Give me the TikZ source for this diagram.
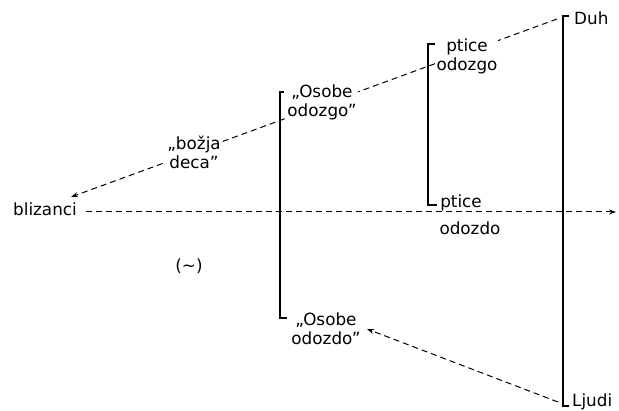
\documentclass[tikz,border=0pt]{standalone}
\usepackage{fontspec}
\setmainfont{DejaVu Sans}
\usetikzlibrary{arrows.meta,backgrounds}
\begin{document}
\begin{tikzpicture}[x=1pt,y=-1pt,
  lbl/.style={font=\fontsize{16.8}{19}\selectfont, inner sep=1pt, align=center},
  barline/.style={line width=1.4pt},
  dline/.style={line width=1pt, dash pattern=on 6pt off 4pt, -{Stealth[length=7pt,width=5pt]}},
]
\useasboundingbox (0,0) rectangle (619,411);
% labels
\node[lbl, anchor=west] (duh) at (573,18) {Duh};
\node[lbl, anchor=base west] (ljudi) at (571,407) {Ljudi};
\node[lbl] (bliz) at (45,209) {blizanci};
\node[lbl, fill=white] (pticeg) at (467,56) {ptice\\odozgo};
\node[lbl] (pticed) at (461,203) {ptice};
\node[lbl] (odozdo) at (470,228) {odozdo};
\node[lbl, fill=white] (osobeg) at (322,102) {„Osobe\\odozgo”};
\node[lbl] (osobed) at (326,329) {„Osobe\\odozdo”};
\node[lbl, fill=white] (bozja) at (194,152) {„božja\\deca”};
\node[lbl] (tilde) at (189,266) {(\textasciitilde)};
% connector ends
\coordinate (duhstart) at (557,19);
\coordinate (bliztip) at (71,197);
\coordinate (hstart) at (86,212);
\coordinate (hend) at (616,212);
\coordinate (ljstart) at (558,402);
\coordinate (ostip) at (367,329);
% bars
\coordinate (osA) at (280,92);
\coordinate (osB) at (280,318);
\coordinate (ptA) at (428,44);
\coordinate (ptB) at (428,205);
\coordinate (dhA) at (563,16);
\coordinate (dhB) at (563,406);
\draw[barline] ([xshift=4pt]osA) -- (osA) -- (osB) -- ([xshift=7pt]osB);
\draw[barline] ([xshift=7pt]ptA) -- (ptA) -- (ptB) -- ([xshift=9pt]ptB);
\draw[barline] ([xshift=6pt]dhA) -- (dhA) -- (dhB) -- ([xshift=6pt]dhB);
\begin{pgfonlayer}{background}
\draw[dline] (duhstart) -- (bliztip);
\draw[dline] (hstart) -- (hend);
\draw[dline] (ljstart) -- (ostip);
\end{pgfonlayer}
\end{tikzpicture}
\end{document}
